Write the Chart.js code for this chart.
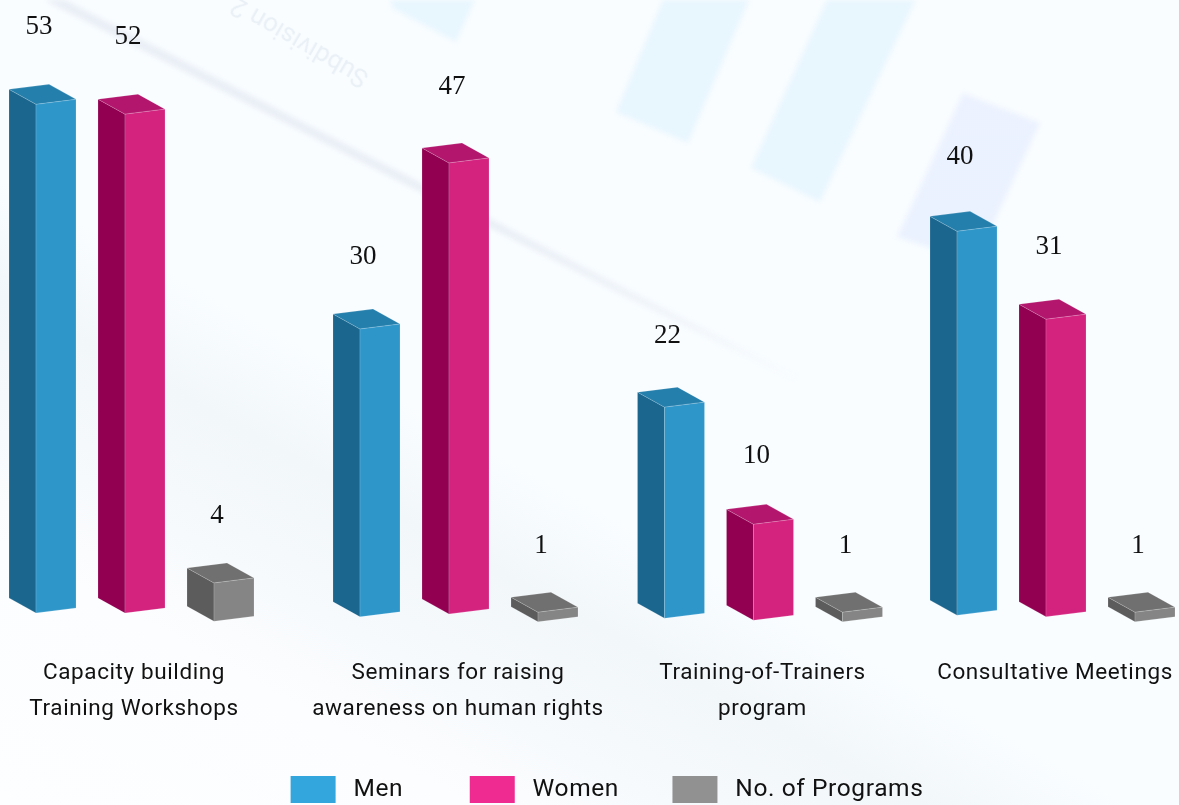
<!DOCTYPE html>
<html>
<head>
<meta charset="utf-8">
<title>Programs and participants</title>
<script src="https://cdn.jsdelivr.net/npm/chart.js@4/dist/chart.umd.min.js"></script>
<style>
html, body { margin: 0; padding: 0; }
body {
    width: 1179px; height: 805px; overflow: hidden; position: relative;
    background: linear-gradient(209deg, #f9fdff 0%, #f9fdff 57%, #f2f7fa 65%, #f5f9fc 72%, #fcfdfe 82%, #fdfeff 100%);
}
#backdrop { position: absolute; left: 0; top: 0; width: 1179px; height: 805px; filter: blur(2.5px); }
.bg { position: absolute; left: 0; top: 0; width: 1179px; height: 805px; }
.blue { background: #e8f6fe; }
.lav { background: linear-gradient(180deg, #ecf1ff 0%, #e9f5fe 100%); }
.line { background: linear-gradient(118deg, #e9eef6 0%, #e9eef6 38%, #f2f6fb 55%, #f8fcff 62%); }
#ghost {
    position: absolute; left: 222px; top: 28px; font: 26px Roboto, sans-serif; color: #e9f0f6;
    transform: rotate(210deg); white-space: nowrap; filter: blur(0.6px);
}
canvas { position: absolute; left: 0; top: 0; }
</style>
</head>
<body>
<div id="backdrop">
<div class="bg blue" style="clip-path: polygon(390px -5px, 477px -5px, 456px 42px, 392px 8px)"></div>
<div class="bg blue" style="clip-path: polygon(665px -5px, 751px -5px, 688px 143px, 616px 112px)"></div>
<div class="bg blue" style="clip-path: polygon(829px -5px, 918px -5px, 820px 202px, 751px 168px)"></div>
<div class="bg lav" style="clip-path: polygon(963px 93px, 1040px 123px, 975px 263px, 897px 237px)"></div>
<div class="bg line" style="clip-path: polygon(27px -9px, 47px -9px, 640px 296px, 800px 378px, 790px 378px, 630px 299px)"></div>
</div>
<div id="ghost">Subdivision 2</div>
<canvas id="programChart" width="1179" height="805"></canvas>
<script>
const categories = [
    ['Capacity building', 'Training Workshops'],
    ['Seminars for raising', 'awareness on human rights'],
    ['Training-of-Trainers', 'program'],
    ['Consultative Meetings']
];
const men = [53, 30, 22, 40];
const women = [52, 47, 10, 31];
const programs = [4, 1, 1, 1];

// the groups in the picture are not evenly spaced, so each one gets nudged
const groupNudge = [-33, 5, 23.5, 30];

const faces = [
    { front: '#2f96c9', side: '#1a668f', top: '#257fac' },
    { front: '#d3237f', side: '#920052', top: '#b2166d' },
    { front: '#858585', side: '#5c5c5c', top: '#707070' }
];

class NudgedCategoryScale extends Chart.CategoryScale {
    getPixelForValue(value) {
        const idx = typeof value === 'number' ? value : this.parse(value);
        return super.getPixelForValue(value) + (groupNudge[idx] || 0);
    }
    // the legend overlaps the axis box, don't let the box clip the labels
    _computeLabelArea() {
        return { top: this.top, left: 0, bottom: this.chart.height, right: this.chart.width };
    }
}
NudgedCategoryScale.id = 'nudgedCategory';
NudgedCategoryScale.defaults = Chart.CategoryScale.defaults;
Chart.register(NudgedCategoryScale);

function fillFace(ctx, points, colour) {
    ctx.beginPath();
    points.forEach((p, i) => i ? ctx.lineTo(p[0], p[1]) : ctx.moveTo(p[0], p[1]));
    ctx.closePath();
    ctx.fillStyle = colour;
    ctx.fill();
    ctx.strokeStyle = 'rgba(255, 255, 255, 0.22)';
    ctx.lineWidth = 0.7;
    ctx.stroke();
}

const bars3d = {
    id: 'bars3d',
    // chart.js resets the canvas on setup, so the spacing has to go on here
    beforeUpdate(chart) { chart.ctx.letterSpacing = '0.6px'; },
    beforeDraw(chart) { chart.ctx.letterSpacing = '0.6px'; },
    beforeDatasetDraw(chart, args) {
        const ctx = chart.ctx;
        const face = faces[args.index];
        const depthX = 27, depthY = 15, rise = 5;
        args.meta.data.forEach((bar, i) => {
            const left = bar.x - bar.width / 2;
            const right = bar.x + bar.width / 2;
            const height = bar.base - bar.y;
            // taller bars sit a touch higher on the floor
            const bottom = bar.base - height * 0.0175;
            ctx.save();
            fillFace(ctx, [[left, bar.y], [left - depthX, bar.y - depthY], [left - depthX, bottom - depthY], [left, bottom]], face.side);
            fillFace(ctx, [[left, bar.y], [right, bar.y - rise], [right - depthX, bar.y - rise - depthY], [left - depthX, bar.y - depthY]], face.top);
            fillFace(ctx, [[left, bar.y], [right, bar.y - rise], [right, bottom - rise], [left, bottom]], face.front);
            ctx.font = '27px "Liberation Serif", serif';
            ctx.letterSpacing = '0px';
            ctx.fillStyle = '#111';
            ctx.textAlign = 'center';
            ctx.textBaseline = 'middle';
            ctx.fillText(String(args.meta.controller.getDataset().data[i]), bar.x - 17, bar.y - 66 - height * 0.0225);
            ctx.restore();
        });
        return false;
    }
};

new Chart(document.getElementById('programChart').getContext('2d'), {
    type: 'bar',
    data: {
        labels: categories,
        datasets: [
            { label: 'Men', data: men, backgroundColor: '#33a6de' },
            { label: 'Women', data: women, backgroundColor: '#ef2a91' },
            { label: 'No. of Programs', data: programs, backgroundColor: '#919191' }
        ]
    },
    options: {
        responsive: false,
        animation: false,
        categoryPercentage: 0.9128,
        barPercentage: 0.4494,
        layout: { padding: { left: 35, top: 36, right: 0, bottom: -8 } },
        scales: {
            x: {
                type: 'nudgedCategory',
                afterFit(scale) {
                    scale.height = 100.5;
                    scale.paddingLeft = 0;
                    scale.paddingRight = 0;
                },
                border: { display: false },
                grid: { display: false, drawTicks: false },
                ticks: {
                    autoSkip: false,
                    maxRotation: 0,
                    padding: 33,
                    labelOffset: -11,
                    color: '#111',
                    font: { family: 'Roboto', size: 22.5, lineHeight: 1.6 }
                }
            },
            y: { display: false, min: 0, max: 60 }
        },
        plugins: {
            tooltip: { enabled: false },
            legend: {
                position: 'bottom',
                labels: {
                    boxWidth: 45,
                    boxHeight: 27,
                    padding: 53.5,
                    color: '#111',
                    font: { family: 'Roboto', size: 24.5 },
                    // the reference legend sets its gaps unevenly, thin spaces get close to it
                    generateLabels(chart) {
                        const items = Chart.defaults.plugins.legend.labels.generateLabels(chart);
                        items.forEach((item, i) => {
                            item.text = '\u2009' + item.text + (i === 0 ? '\u2002' : '');
                        });
                        return items;
                    }
                }
            }
        }
    },
    plugins: [bars3d]
});
</script>
</body>
</html>
